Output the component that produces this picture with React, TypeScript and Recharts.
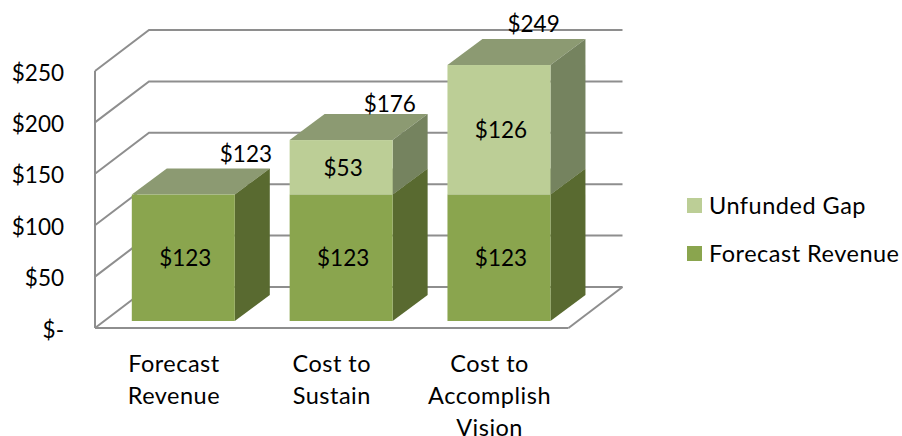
import { Bar, XAxis, YAxis, CartesianGrid, Legend, LabelList, Line, ComposedChart } from 'recharts';

const CATEGORIES = ['Forecast Revenue', 'Cost to Sustain', 'Cost to Accomplish Vision'];
const CATEGORY_LINES = [['Forecast', 'Revenue'], ['Cost to', 'Sustain'], ['Cost to', 'Accomplish', 'Vision']];
const FORECAST_REVENUE = [123, 123, 123];
const UNFUNDED_GAP = [0, 53, 126];
const TOTALS = [123, 176, 249];
const Y_TICKS = [0, 50, 100, 150, 200, 250];

const chartData = CATEGORIES.map((name, i) => ({
  name,
  forecast: FORECAST_REVENUE[i],
  gap: UNFUNDED_GAP[i],
  total: TOTALS[i],
}));

const WIDTH = 902;
const HEIGHT = 436;
const PLOT_TOP = 71;
const PLOT_BOTTOM = 328;
const PLOT_LEFT = 95;
const PLOT_RIGHT = 568.5;

// fake 3D projection, same idea as the Excel chart it copies
const WALL_DX = 54;
const WALL_DY = 41;
const BAR_SHIFT_X = 9.8;
const BAR_SHIFT_Y = 7;
const BAR_DX = 35;
const BAR_DY = 26;

// total labels were moved by hand in the original
const TOTAL_NUDGE = [[72, -48], [58, -44], [44, -49]];

const FONT = 'Lato, sans-serif';
const FONT_SIZE = 22.5;
const WORD_SIZE = 23.5;
const WORD_SPACING = 0.5;
const GRID_COLOR = '#8e8e8e';

const COLORS = {
  forecast: { front: '#8aa54e', side: '#596a30', top: '#8c9a72' },
  gap: { front: '#bcce96', side: '#75835f', top: '#8c9a72' },
};

function GridLine(props: any) {
  const { x1, y1, x2 } = props;
  const isFloor = Math.abs(y1 - PLOT_BOTTOM) < 1;
  return (
    <g>
      <polyline
        points={`${x1},${y1} ${x1 + WALL_DX},${y1 - WALL_DY} ${x2 + WALL_DX},${y1 - WALL_DY}`}
        fill="none"
        stroke={GRID_COLOR}
        strokeWidth={2}
      />
      {isFloor && (
        <line x1={x2} y1={y1} x2={x2 + WALL_DX} y2={y1 - WALL_DY} stroke={GRID_COLOR} strokeWidth={2} />
      )}
    </g>
  );
}

function Box3D(props: any) {
  const { x, y, width, height, palette } = props;
  const left = x + BAR_SHIFT_X;
  const right = left + width;
  const top = y - BAR_SHIFT_Y;
  const bottom = top + height;
  return (
    <g>
      <polygon
        points={`${left},${top} ${left + BAR_DX},${top - BAR_DY} ${right + BAR_DX},${top - BAR_DY} ${right},${top}`}
        fill={palette.top}
      />
      <polygon
        points={`${right},${top} ${right + BAR_DX},${top - BAR_DY} ${right + BAR_DX},${bottom - BAR_DY} ${right},${bottom}`}
        fill={palette.side}
      />
      <rect x={left} y={top} width={width} height={height} fill={palette.front} />
    </g>
  );
}

function BarValueLabel(props: any) {
  const { x, y, width, height, value } = props;
  if (!value) return null;
  return (
    <text
      x={x + BAR_SHIFT_X + width / 2 + 2}
      y={y - BAR_SHIFT_Y + height / 2}
      textAnchor="middle"
      dominantBaseline="central"
      fontFamily={FONT}
      fontSize={FONT_SIZE}
      fill="#000"
    >
      ${value}
    </text>
  );
}

function TotalLabel(props: any) {
  const { x, y, index, value } = props;
  const [dx, dy] = TOTAL_NUDGE[index];
  return (
    <text
      x={x + dx}
      y={y + dy}
      textAnchor="middle"
      dominantBaseline="central"
      fontFamily={FONT}
      fontSize={FONT_SIZE}
      fill="#000"
    >
      ${value}
    </text>
  );
}

function ValueTick(props: any) {
  const { x, y, payload } = props;
  return (
    <text
      x={x}
      y={y + 1}
      textAnchor="end"
      dominantBaseline="central"
      fontFamily={FONT}
      fontSize={FONT_SIZE}
      fill="#000"
    >
      {payload.value === 0 ? '$-' : `$${payload.value}`}
    </text>
  );
}

function CategoryTick(props: any) {
  const { x, index } = props;
  return (
    <text
      x={x}
      textAnchor="middle"
      fontFamily={FONT}
      fontSize={WORD_SIZE}
      letterSpacing={WORD_SPACING}
      fill="#000"
    >
      {CATEGORY_LINES[index].map((line, i) => (
        <tspan key={line} x={x} y={363 + i * 32} dominantBaseline="central">
          {line}
        </tspan>
      ))}
    </text>
  );
}

function LegendBox({ payload }: any) {
  const items = [...(payload || [])].filter(p => p.type !== 'none');
  items.sort((a, b) => (a.value === 'Unfunded Gap' ? -1 : b.value === 'Unfunded Gap' ? 1 : 0));
  return (
    <div style={{ fontFamily: FONT, fontSize: WORD_SIZE, letterSpacing: WORD_SPACING, color: '#000' }}>
      {items.map(item => (
        <div key={item.value} style={{ display: 'flex', alignItems: 'center', height: 48, whiteSpace: 'nowrap' }}>
          <span
            style={{
              display: 'inline-block',
              width: 15,
              height: 15,
              marginRight: 7,
              background: item.value === 'Unfunded Gap' ? COLORS.gap.front : COLORS.forecast.front,
            }}
          />
          {item.value}
        </div>
      ))}
    </div>
  );
}

export default function App() {
  return (
    <div style={{ position: 'absolute', left: 0, top: 0 }}>
      <ComposedChart
        width={WIDTH}
        height={HEIGHT}
        data={chartData}
        barSize={103}
        margin={{ top: PLOT_TOP, right: WIDTH - PLOT_RIGHT, bottom: 0, left: 0 }}
      >
        <CartesianGrid vertical={false} horizontal={(p: any) => <GridLine key={p.key} {...p} />} />
        <XAxis
          dataKey="name"
          height={HEIGHT - PLOT_BOTTOM}
          axisLine={{ stroke: GRID_COLOR, strokeWidth: 2 }}
          tickLine={false}
          interval={0}
          tick={<CategoryTick />}
        />
        <YAxis
          width={PLOT_LEFT}
          domain={[0, 250]}
          ticks={Y_TICKS}
          axisLine={{ stroke: GRID_COLOR, strokeWidth: 2 }}
          tickLine={false}
          tickSize={0}
          tickMargin={31}
          tick={<ValueTick />}
        />
        <Legend
          layout="vertical"
          align="center"
          verticalAlign="middle"
          wrapperStyle={{ left: 687, top: 181, width: 215 }}
          content={<LegendBox />}
        />
        <Bar
          dataKey="forecast"
          name="Forecast Revenue"
          stackId="a"
          fill={COLORS.forecast.front}
          isAnimationActive={false}
          shape={(p: any) => <Box3D {...p} palette={COLORS.forecast} />}
        >
          <LabelList dataKey="forecast" content={<BarValueLabel />} />
        </Bar>
        <Bar
          dataKey="gap"
          name="Unfunded Gap"
          stackId="a"
          fill={COLORS.gap.front}
          isAnimationActive={false}
          shape={(p: any) => (p.height > 0 ? <Box3D {...p} palette={COLORS.gap} /> : <g />)}
        >
          <LabelList dataKey="gap" content={<BarValueLabel />} />
        </Bar>
        <Line
          dataKey="total"
          stroke="none"
          dot={false}
          activeDot={false}
          legendType="none"
          isAnimationActive={false}
          label={<TotalLabel />}
        />
      </ComposedChart>
    </div>
  );
}
